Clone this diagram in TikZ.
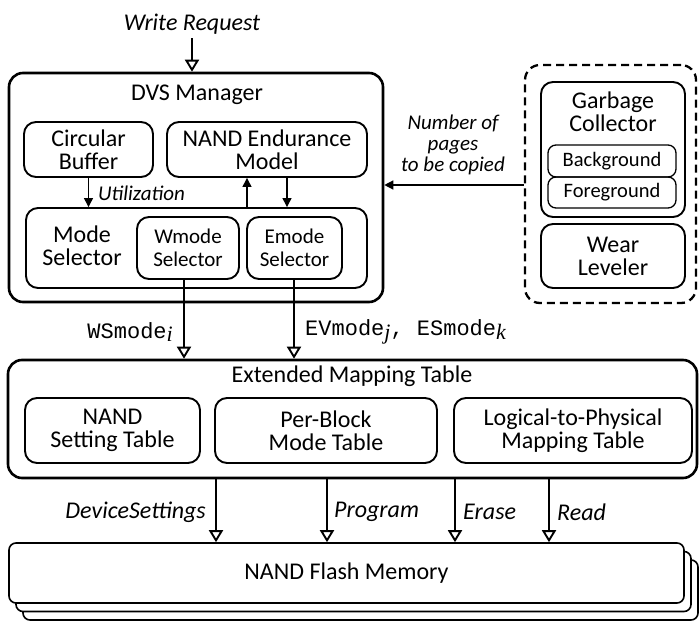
\documentclass[tikz,border=0pt]{standalone}
\usepackage{fontspec}
\setmainfont{Carlito}
\newfontfamily\courfont{Liberation Mono}
\newfontfamily\timesfont{Liberation Serif}
\usetikzlibrary{arrows.meta,positioning}

% monospace mode name with a serif italic index
\newcommand{\modename}[2]{{\courfont #1}\raisebox{-0.35ex}{\timesfont\itshape #2}}

\tikzset{
  outerbox/.style={draw, line width=2.6pt, rounded corners=14pt, inner sep=0pt, fill=white},
  innerbox/.style={draw, line width=1.9pt, rounded corners=12pt, inner sep=0pt, align=center,
                   font=\fontsize{24}{23}\selectfont},
  smallbox/.style={draw, line width=1.3pt, rounded corners=8pt, inner sep=0pt, align=center,
                   font=\fontsize{20.5}{22}\selectfont},
  flashbox/.style={draw, line width=1.6pt, rounded corners=7pt, inner sep=0pt, fill=white},
  title/.style={font=\fontsize{24}{23}\selectfont, align=center, inner sep=0pt},
  biglabel/.style={font=\fontsize{24}{24}\selectfont\itshape, inner sep=0pt},
  smalllabel/.style={font=\fontsize{21}{21}\selectfont\itshape, inner sep=0pt, align=center},
  modelabel/.style={font=\fontsize{22}{22}\selectfont, inner sep=0pt},
  bigarrow/.style={line width=2.5pt, -{Triangle[open, length=12pt, width=14pt, line width=1.9pt]}},
  smallarrow/.style={line width=1.3pt, -{Triangle[length=9pt, width=9pt]}},
}

\begin{document}
\begin{tikzpicture}[x=1pt, y=-1pt]
\useasboundingbox (0,0) rectangle (699,626);

% ---------------- DVS manager ----------------
\node[outerbox, minimum width=374pt, minimum height=229pt] (dvs) at (196,187.5) {};
\node[title] (dvstitle) at (197,95) {DVS Manager};
\node[innerbox, minimum width=129pt, minimum height=55pt] (cb) at (88.5,149.5) {Circular\\Buffer};
\node[innerbox, minimum width=200pt, minimum height=55pt] (nem) at (267,149.5) {NAND Endurance\\Model};
\node[innerbox, minimum width=341pt, minimum height=80pt] (ms) at (196.5,248) {};
\node[title] (mstitle) at (82,246) {Mode\\Selector};
\node[innerbox, minimum width=102pt, minimum height=62pt, font=\fontsize{21}{23}\selectfont] (wsel) at (188,248) {Wmode\\Selector};
\node[innerbox, minimum width=95pt, minimum height=62pt, font=\fontsize{21}{23}\selectfont] (esel) at (294.5,248) {Emode\\Selector};

% ---------------- GC / wear leveling group ----------------
\node[draw, line width=2.3pt, rounded corners=15pt, dash pattern=on 8pt off 5pt,
      minimum width=171pt, minimum height=238pt, inner sep=0pt] (grp) at (610.5,184) {};
\node[innerbox, minimum width=144pt, minimum height=135pt] (gc) at (613,149.5) {};
\node[title] (gctitle) at (613,112) {Garbage\\Collector};
\node[smallbox, minimum width=128pt, minimum height=32pt] (bg) at (612,161) {Background};
\node[smallbox, minimum width=128pt, minimum height=31pt] (fg) at (612,192.5) {Foreground};
\node[innerbox, minimum width=144pt, minimum height=64pt] (wl) at (613,256) {Wear\\Leveler};

% ---------------- extended mapping table ----------------
\node[outerbox, minimum width=689pt, minimum height=118pt] (emt) at (352.5,419) {};
\node[title] (emttitle) at (352,376) {Extended Mapping Table};
\node[innerbox, minimum width=175pt, minimum height=65pt] (nst) at (112.5,430.5) {NAND\\Setting Table};
\node[innerbox, minimum width=222pt, minimum height=65pt] (pbm) at (326,430.5) {Per-Block\\Mode Table};
\node[innerbox, minimum width=238pt, minimum height=65pt] (l2p) at (573,430.5) {Logical-to-Physical\\Mapping Table};

% ---------------- flash memory (stacked chips) ----------------
\node[flashbox, minimum width=675pt, minimum height=60pt] (flash3) at (360.5,590) {};
\node[flashbox, minimum width=675pt, minimum height=60pt] (flash2) at (353.5,581.5) {};
\node[flashbox, minimum width=675pt, minimum height=60pt, font=\fontsize{24}{24}\selectfont] (flash) at (346.5,573) {NAND Flash Memory};

% ---------------- connectors ----------------
\node[biglabel] (wr) at (192,24) {Write Request};
\draw[bigarrow] (wr.south) ++(0,4) -- (wr.south |- dvs.north);

\draw[smallarrow] (cb.south) -- (cb.south |- ms.north);
\node[smalllabel, anchor=west] (util) at (98,193) {Utilization};

\coordinate (upx) at (247,0);
\coordinate (dnx) at (287,0);
\draw[smallarrow] (ms.north -| upx) -- (nem.south -| upx);
\draw[smallarrow] (nem.south -| dnx) -- (ms.north -| dnx);

\coordinate (gcy) at (0,185);
\draw[smallarrow] (gcy -| grp.west) -- (gcy -| dvs.east);
\node[smalllabel] (pages) at (453,145) {Number of\\pages\\to be copied};

\coordinate (wx) at (184,0);
\coordinate (ex) at (294,0);
\draw[bigarrow] (wsel.south -| wx) -- (emt.north -| wx);
\draw[bigarrow] (esel.south -| ex) -- (emt.north -| ex);
\node[modelabel, anchor=east] (wslabel) at (173,332) {\modename{WSmode}{i}};
\node[modelabel, anchor=west] (evlabel) at (305,332) {\modename{EVmode}{j}{\courfont,~}\modename{ESmode}{k}};

\coordinate (dsx) at (216,0);
\coordinate (prx) at (327,0);
\coordinate (erx) at (455,0);
\coordinate (rdx) at (549,0);
\draw[bigarrow] (emt.south -| dsx) -- (flash.north -| dsx);
\draw[bigarrow] (emt.south -| prx) -- (flash.north -| prx);
\draw[bigarrow] (emt.south -| erx) -- (flash.north -| erx);
\draw[bigarrow] (emt.south -| rdx) -- (flash.north -| rdx);
\node[biglabel, anchor=east] (dslabel) at (206,512) {DeviceSettings};
\node[biglabel, anchor=west] (prlabel) at (334,512) {Program};
\node[biglabel, anchor=west] (erlabel) at (463,512) {Erase};
\node[biglabel, anchor=west] (rdlabel) at (557,512) {Read};
\end{tikzpicture}
\end{document}
